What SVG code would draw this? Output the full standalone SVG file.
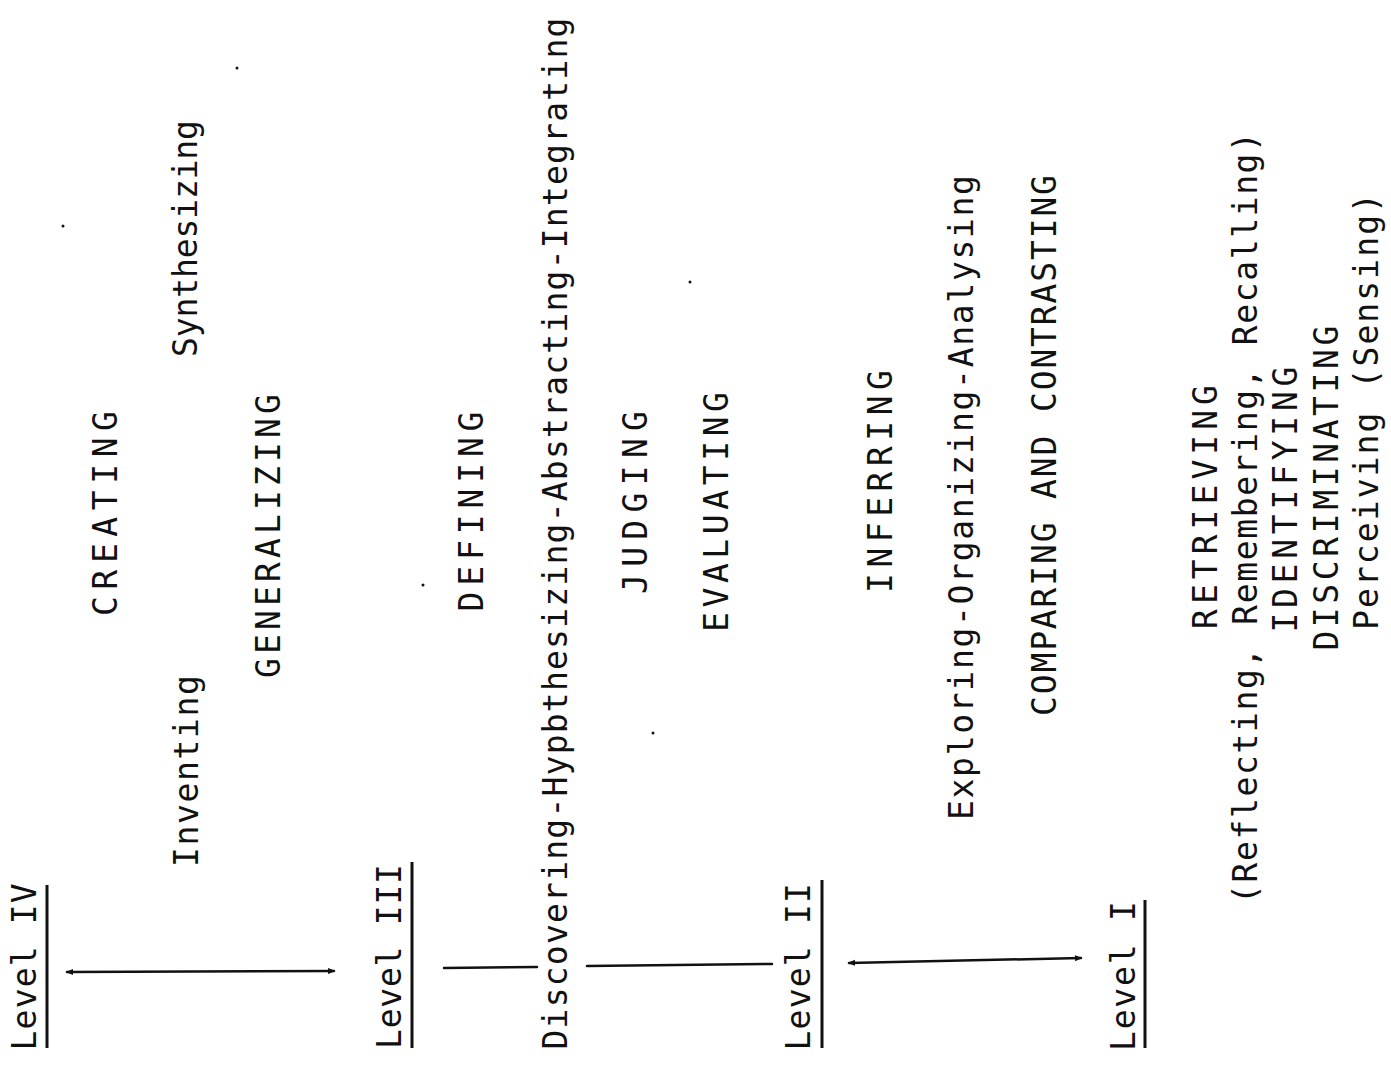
<svg xmlns="http://www.w3.org/2000/svg" width="1391" height="1065" viewBox="0 0 1391 1065">
<style>
  text { font-family: "DejaVu Sans Mono", "Liberation Mono", monospace; font-size: 33px; fill: #111; }
  .ul { stroke: #111; stroke-width: 3; fill: none; }
  .conn { stroke: #111; stroke-width: 2.5; fill: none; stroke-linecap: round; }
  .speck { fill: #111; }
</style>
<defs>
  <marker id="tip" viewBox="0 0 10 10" refX="8" refY="5" markerWidth="3" markerHeight="3" orient="auto-start-reverse">
    <path d="M0,1 L10,5 L0,9 z" fill="#111"/>
  </marker>
</defs>
<rect width="1391" height="1065" fill="#fff"/>

<g id="level4">
  <text transform="translate(36,1050.4) rotate(-90)" textLength="167" lengthAdjust="spacing">Level IV</text>
  <line class="ul" x1="47" y1="885" x2="47" y2="1048"/>
</g>
<g id="creating"><text transform="translate(117,616) rotate(-90)" textLength="205" lengthAdjust="spacing">CREATING</text></g>
<g id="inventing"><text transform="translate(198,867) rotate(-90)" textLength="192" lengthAdjust="spacing">Inventing</text></g>
<g id="synthesizing"><text transform="translate(197,357) rotate(-90)" textLength="237" lengthAdjust="spacing">Synthesizing</text></g>
<g id="generalizing"><text transform="translate(280,678) rotate(-90)" textLength="284" lengthAdjust="spacing">GENERALIZING</text></g>

<g id="level3">
  <text transform="translate(401,1049) rotate(-90)" textLength="185" lengthAdjust="spacing">Level III</text>
  <line class="ul" x1="412" y1="862" x2="412" y2="1048"/>
</g>
<g id="defining"><text transform="translate(483,611.5) rotate(-90)" textLength="200" lengthAdjust="spacing">DEFINING</text></g>
<g id="discovering"><text transform="translate(567,1049.5) rotate(-90)" textLength="1032" lengthAdjust="spacing">Discovering-Hypbthesizing-Abstracting-Integrating</text></g>
<g id="judging"><text transform="translate(647,594) rotate(-90)" textLength="183" lengthAdjust="spacing">JUDGING</text></g>
<g id="evaluating"><text transform="translate(728,632) rotate(-90)" textLength="240" lengthAdjust="spacing">EVALUATING</text></g>

<g id="level2">
  <text transform="translate(810,1050.5) rotate(-90)" textLength="167.5" lengthAdjust="spacing">Level II</text>
  <line class="ul" x1="822" y1="880" x2="822" y2="1048"/>
</g>
<g id="inferring"><text transform="translate(892,593) rotate(-90)" textLength="223" lengthAdjust="spacing">INFERRING</text></g>
<g id="exploring"><text transform="translate(973,820) rotate(-90)" textLength="645" lengthAdjust="spacing">Exploring-Organizing-Analysing</text></g>
<g id="comparing"><text transform="translate(1056,716) rotate(-90)" textLength="541" lengthAdjust="spacing">COMPARING AND CONTRASTING</text></g>

<g id="level1">
  <text transform="translate(1135,1051) rotate(-90)" textLength="150" lengthAdjust="spacing">Level I</text>
  <line class="ul" x1="1145" y1="900" x2="1145" y2="1048"/>
</g>
<g id="retrieving"><text transform="translate(1217,629) rotate(-90)" textLength="244" lengthAdjust="spacing">RETRIEVING</text></g>
<g id="reflecting"><text transform="translate(1257,904) rotate(-90)" textLength="772" lengthAdjust="spacing">(Reflecting, Remembering, Recalling)</text></g>
<g id="identifying"><text transform="translate(1297,632.6) rotate(-90)" textLength="266" lengthAdjust="spacing">IDENTIFYING</text></g>
<g id="discriminating"><text transform="translate(1338,650.6) rotate(-90)" textLength="325" lengthAdjust="spacing">DISCRIMINATING</text></g>
<g id="perceiving"><text transform="translate(1378,630) rotate(-90)" textLength="437" lengthAdjust="spacing">Perceiving (Sensing)</text></g>

<g id="connectors">
  <line class="conn" x1="67" y1="972" x2="334" y2="971" marker-start="url(#tip)" marker-end="url(#tip)"/>
  <line class="conn" x1="444" y1="968" x2="537" y2="967"/>
  <line class="conn" x1="587" y1="966" x2="772" y2="964"/>
  <line class="conn" x1="849" y1="963" x2="1081" y2="958" marker-start="url(#tip)" marker-end="url(#tip)"/>
</g>

<g id="specks">
  <circle class="speck" cx="237" cy="68" r="1.5"/>
  <circle class="speck" cx="63" cy="226" r="1.5"/>
  <circle class="speck" cx="423" cy="585" r="1.5"/>
  <circle class="speck" cx="690" cy="282" r="1.5"/>
  <circle class="speck" cx="653" cy="733" r="1.5"/>
</g>
</svg>
